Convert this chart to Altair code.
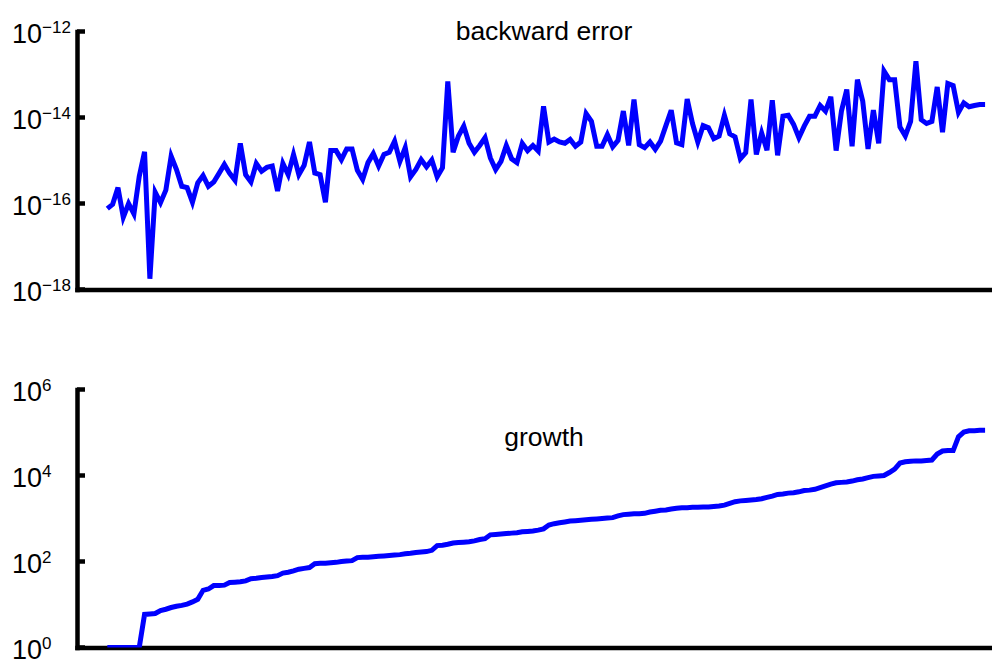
import altair as alt
import pandas as pd

# ---- data (log10 of the plotted values) ----
backward_error_log10 = [
    -16.12, -16.02, -15.63, -16.32, -16.00, -16.24, -15.37, -14.80, -17.75, -15.74,
    -15.98, -15.69, -14.90, -15.21, -15.60, -15.63, -15.97, -15.52, -15.35, -15.60,
    -15.50, -15.30, -15.09, -15.30, -15.46, -14.60, -15.33, -15.50, -15.07, -15.25,
    -15.16, -15.13, -15.71, -15.07, -15.33, -14.86, -15.33, -15.11, -14.57, -15.29,
    -15.33, -15.97, -14.77, -14.77, -14.98, -14.73, -14.73, -15.23, -15.44, -15.05,
    -14.84, -15.13, -14.86, -14.81, -14.55, -15.02, -14.70, -15.38, -15.21, -14.98,
    -15.15, -14.99, -15.38, -15.17, -13.16, -14.81, -14.43, -14.20, -14.60, -14.81,
    -14.65, -14.47, -14.94, -15.21, -15.02, -14.65, -14.96, -15.05, -14.60, -14.77,
    -14.65, -14.78, -13.74, -14.57, -14.50, -14.57, -14.60, -14.51, -14.67, -14.57,
    -13.91, -14.09, -14.67, -14.67, -14.40, -14.68, -14.53, -13.85, -14.65, -13.58,
    -14.63, -14.70, -14.57, -14.74, -14.55, -14.19, -13.83, -14.59, -14.63, -13.57,
    -14.14, -14.57, -14.19, -14.24, -14.49, -14.43, -13.95, -14.38, -14.45, -14.96,
    -14.82, -13.58, -14.86, -14.36, -14.76, -13.60, -14.88, -13.97, -13.95, -14.16,
    -14.47, -14.20, -13.97, -13.97, -13.72, -13.85, -13.52, -14.77, -13.85, -13.35,
    -14.67, -13.12, -13.62, -14.73, -13.83, -14.60, -12.92, -13.12, -13.12, -14.22,
    -14.43, -14.09, -12.69, -14.05, -14.14, -14.09, -13.29, -14.34, -13.21, -13.26,
    -13.88, -13.66, -13.75, -13.72, -13.70, -13.70,
]

growth_log10 = [
    0.00, 0.00, 0.00, 0.00, 0.00, 0.00, 0.00, 0.77, 0.78, 0.79,
    0.86, 0.89, 0.93, 0.96, 0.98, 1.01, 1.06, 1.12, 1.33, 1.36,
    1.44, 1.44, 1.45, 1.51, 1.52, 1.53, 1.55, 1.60, 1.61, 1.63,
    1.64, 1.65, 1.67, 1.73, 1.75, 1.78, 1.82, 1.84, 1.86, 1.95,
    1.96, 1.96, 1.97, 1.98, 2.00, 2.01, 2.02, 2.09, 2.10, 2.10,
    2.11, 2.12, 2.13, 2.14, 2.15, 2.16, 2.18, 2.19, 2.21, 2.22,
    2.23, 2.26, 2.37, 2.38, 2.40, 2.43, 2.44, 2.45, 2.46, 2.48,
    2.51, 2.53, 2.62, 2.63, 2.64, 2.65, 2.66, 2.67, 2.69, 2.70,
    2.71, 2.73, 2.76, 2.85, 2.88, 2.90, 2.92, 2.94, 2.95, 2.96,
    2.97, 2.98, 2.99, 3.00, 3.01, 3.02, 3.06, 3.09, 3.10, 3.11,
    3.11, 3.12, 3.15, 3.17, 3.19, 3.20, 3.22, 3.24, 3.25, 3.25,
    3.26, 3.26, 3.27, 3.27, 3.28, 3.29, 3.31, 3.35, 3.39, 3.41,
    3.42, 3.43, 3.44, 3.46, 3.49, 3.52, 3.56, 3.57, 3.59, 3.60,
    3.62, 3.65, 3.66, 3.68, 3.72, 3.76, 3.80, 3.83, 3.84, 3.85,
    3.87, 3.90, 3.92, 3.95, 3.98, 3.99, 4.00, 4.07, 4.15, 4.29,
    4.32, 4.33, 4.34, 4.34, 4.35, 4.36, 4.50, 4.57, 4.58, 4.58,
    4.90, 5.01, 5.04, 5.04, 5.05, 5.05,
]

top_tick_exponents = [-18, -16, -14, -12]
bottom_tick_exponents = [0, 2, 4, 6]
panel_titles = ["backward error", "growth"]

# ---- styling / layout ----
FONT = "Liberation Sans"
W, H = 915, 258
X_DOMAIN = [-4.7, 167.3]
LINE_BLUE = "#0000ff"
AXIS_W = 4.5
LABEL_X = -35


def axis_style():
    return alt.Axis(domain=True, ticks=False, labels=False, grid=False, title=None,
                    domainWidth=AXIS_W, domainColor="black", domainCap="square")


def panel(values_log10, tick_exps, title, title_y):
    n = len(values_log10)
    df = pd.DataFrame({"i": list(range(1, n + 1)),
                       "v": [10.0 ** e for e in values_log10]})
    xs = alt.Scale(domain=X_DOMAIN, nice=False, zero=False)
    ys = alt.Scale(type="log", domain=[10.0 ** tick_exps[0], 10.0 ** tick_exps[-1]], nice=False)

    line = alt.Chart(df).mark_line(color=LINE_BLUE, strokeWidth=5, clip=True).encode(
        x=alt.X("i:Q", scale=xs, axis=axis_style()),
        y=alt.Y("v:Q", scale=ys, axis=axis_style()),
    )

    tdf = pd.DataFrame({
        "v": [10.0 ** e for e in tick_exps],
        "exp": [("\u2212" + str(-e)) if e < 0 else str(e) for e in tick_exps],
    })
    ticks = alt.Chart(tdf).mark_rule(color="black", strokeWidth=AXIS_W).encode(
        y=alt.Y("v:Q", scale=ys, axis=axis_style()),
        x=alt.value(0), x2=alt.value(8),
    )
    base = alt.Chart(tdf).mark_text(text="10", align="right", baseline="alphabetic",
                                    fontSize=27, font=FONT, dy=11, color="black").encode(
        y=alt.Y("v:Q", scale=ys, axis=axis_style()), x=alt.value(LABEL_X),
    )
    expo = alt.Chart(tdf).mark_text(align="left", baseline="alphabetic",
                                    fontSize=17, font=FONT, dy=1.5, color="black").encode(
        y=alt.Y("v:Q", scale=ys, axis=axis_style()), x=alt.value(LABEL_X), text="exp:N",
    )
    ttl = alt.Chart(pd.DataFrame({"t": [title]})).mark_text(
        fontSize=26.5, font=FONT, baseline="alphabetic", align="center", color="black"
    ).encode(x=alt.value(467), y=alt.value(title_y), text="t:N")

    return alt.layer(line, ticks, base, expo, ttl).properties(width=W, height=H)


top = panel(backward_error_log10, top_tick_exponents, panel_titles[0], 8)
bottom = panel(growth_log10, bottom_tick_exponents, panel_titles[1], 56)

chart = alt.vconcat(top, bottom, spacing=100, bounds="flush").properties(
    padding={"left": 3, "top": 10.5, "right": 0, "bottom": 0},
    background="white",
).configure_view(strokeWidth=0, stroke="transparent")

chart.save("out.html", embed_options={"renderer": "svg", "actions": False})
